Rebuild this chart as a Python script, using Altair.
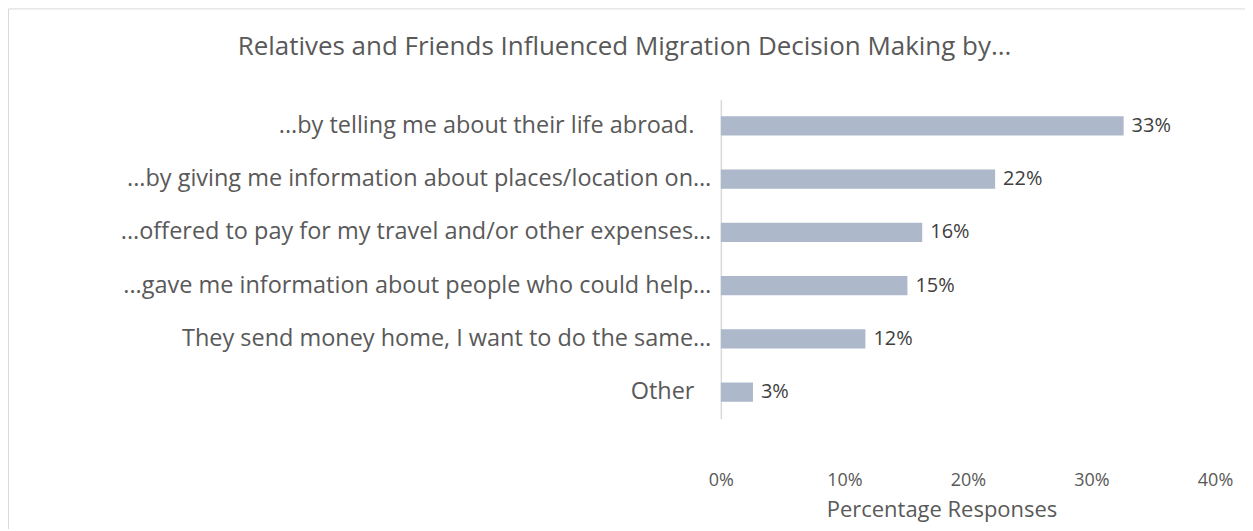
import altair as alt
import pandas as pd

categories = [
    "...by telling me about their life abroad.",
    "...by giving me information about places/location on…",
    "...offered to pay for my travel and/or other expenses…",
    "...gave me information about people who could help…",
    "They send money home, I want to do the same…",
    "Other",
]
values = [32.6, 22.2, 16.3, 15.1, 11.7, 2.6]
x_ticks = [0, 10, 20, 30, 40]

df = pd.DataFrame({"cat": categories, "val": values})

FONT = "Open Sans"
GREY = "#595959"

y_enc = alt.Y(
    "cat:N",
    sort=categories,
    scale=alt.Scale(paddingInner=0.64, paddingOuter=0.32),
    axis=alt.Axis(
        title=None,
        ticks=False,
        domain=True,
        domainColor="#d9d9d9",
        domainWidth=1.5,
        labelFont=FONT,
        labelFontSize=23.5,
        labelColor=GREY,
        labelPadding={
            "condition": {"test": "indexof(datum.label, '…') >= 0", "value": 10},
            "value": 27,
        },
        labelLimit=700,
    ),
)

x_enc = alt.X(
    "val:Q",
    scale=alt.Scale(domain=[0, 40], nice=False),
    axis=alt.Axis(
        values=x_ticks,
        title="Percentage Responses",
        titleFont=FONT,
        titleFontSize=22,
        titleFontWeight="normal",
        titleColor=GREY,
        titlePadding=10,
        titleX=221,
        domain=False,
        ticks=False,
        grid=False,
        labelFlush=False,
        labelFont=FONT,
        labelFontSize=18,
        labelColor=GREY,
        labelPadding=53,
        labelExpr="datum.value + '%'",
    ),
)

bars = alt.Chart(df).mark_bar(color="#adb9ca").encode(x=x_enc, y=y_enc)

labels = (
    alt.Chart(df)
    .transform_calculate(lab="format(datum.val / 100, '.0%')")
    .mark_text(align="left", baseline="middle", dx=8, font=FONT, fontSize=20, color="#404040")
    .encode(x="val:Q", y=alt.Y("cat:N", sort=categories), text="lab:N")
)

border = (
    alt.Chart(pd.DataFrame({"d": [0]}))
    .mark_rect(fill=None, stroke="#d9d9d9", strokeWidth=1)
    .encode(
        x=alt.value(-713.5),
        x2=alt.value(526),
        y=alt.value(-90.5),
        y2=alt.value(460),
    )
)

chart = (
    alt.layer(border, bars, labels)
    .properties(
        width=495,
        height=320,
        autosize=alt.AutoSizeParams(type="none"),
        padding={"left": 714, "top": 91, "right": 30, "bottom": 110},
        title=alt.TitleParams(
            text="Relatives and Friends Influenced Migration Decision Making by...",
            font=FONT,
            fontSize=26,
            fontWeight="normal",
            color=GREY,
            anchor="middle",
            frame="group",
            dx=-344,
            baseline="alphabetic",
            offset=0,
            dy=73,
        ),
    )
    .configure_view(strokeWidth=0)
)

chart.save("out.html", embed_options={"renderer": "svg", "actions": False})
